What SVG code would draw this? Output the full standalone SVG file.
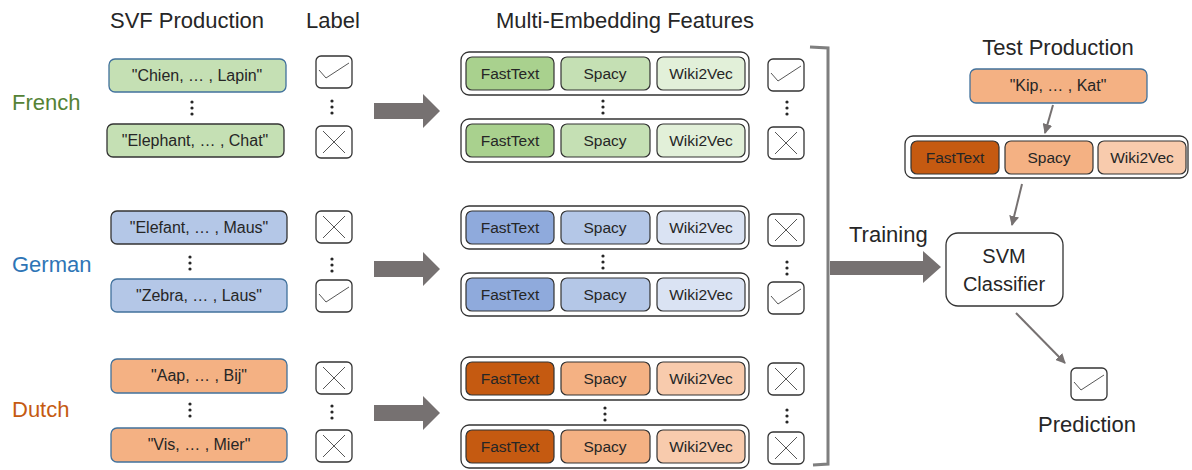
<svg xmlns="http://www.w3.org/2000/svg" xmlns:xlink="http://www.w3.org/1999/xlink" width="1192" height="470" viewBox="0 0 1192 470">
<style>
text{font-family:"Liberation Sans",Arial,sans-serif;fill:#262626}
.title{font-size:22px}
.lang{font-size:22px}
.s15{font-size:15.5px}
.s16{font-size:16px}
.svf{stroke:#333;stroke-width:1.3}
.svfb{stroke:#41719c;stroke-width:1.3}
.outer{fill:#fff;stroke:#333;stroke-width:1.3}
.in{stroke:#333;stroke-width:1.2}
.lab{fill:#fff;stroke:#333;stroke-width:1.3}
.mark{fill:none;stroke:#444;stroke-width:0.9}
.g1{fill:#a9d18e}.g2{fill:#c5e0b4}.g3{fill:#e2f0d9}
.b1{fill:#8faadc}.b2{fill:#b4c7e7}.b3{fill:#dae3f3}
.o1{fill:#c55a11}.o2{fill:#f4b183}.o3{fill:#f8cbad}
.big{fill:#767171}
.thin{fill:none;stroke:#767171;stroke-width:2}
.dot{fill:#262626}
</style>
<defs>
<marker id="ah" viewBox="0 0 10 10" refX="9" refY="5" markerWidth="5" markerHeight="5" orient="auto" markerUnits="strokeWidth">
<path d="M0,0 L10,5 L0,10 z" fill="#767171"/>
</marker>
<g id="chk"><rect class="lab" x="0" y="0" width="36" height="32" rx="5"/><path class="mark" d="M3,14 L10,22 L33,7"/></g>
<g id="crs"><rect class="lab" x="0" y="0" width="36" height="32" rx="5"/><path class="mark" d="M7,5 L29,27 M29,5 L7,27"/></g>
<g id="dots"><circle class="dot" cx="0" cy="0" r="1.6"/><circle class="dot" cx="0" cy="6" r="1.6"/><circle class="dot" cx="0" cy="12" r="1.6"/></g>
</defs>

<g id="titles">
<text class="title" x="187" y="28" text-anchor="middle">SVF Production</text>
<text class="title" x="333" y="28" text-anchor="middle">Label</text>
<text class="title" x="625" y="28" text-anchor="middle">Multi-Embedding Features</text>
<text class="title" x="1058" y="55" text-anchor="middle">Test Production</text>
</g>

<g id="lang-labels">
<text class="lang" x="12" y="110" style="fill:#548235">French</text>
<text class="lang" x="12" y="272" style="fill:#2e75b6">German</text>
<text class="lang" x="12" y="417" style="fill:#c55a11">Dutch</text>
</g>

<!-- SVF productions -->
<g id="svf-french">
<rect class="svfb g2" x="109" y="59" width="177" height="33" rx="6"/>
<text class="s16" x="197" y="81" text-anchor="middle">"Chien, … , Lapin"</text>
<use xlink:href="#dots" x="192" y="102"/>
<rect class="svf g2" x="107" y="124" width="177" height="33" rx="6"/>
<text class="s16" x="195" y="146" text-anchor="middle">"Elephant, … , Chat"</text>
</g>
<g id="svf-german">
<rect class="svf b2" x="111" y="211" width="176" height="33" rx="6"/>
<text class="s16" x="199" y="233" text-anchor="middle">"Elefant, … , Maus"</text>
<use xlink:href="#dots" x="190" y="257"/>
<rect class="svfb b2" x="111" y="279" width="176" height="33" rx="6"/>
<text class="s16" x="199" y="301" text-anchor="middle">"Zebra, … , Laus"</text>
</g>
<g id="svf-dutch">
<rect class="svfb o2" x="111" y="359" width="176" height="34" rx="6"/>
<text class="s16" x="199" y="381" text-anchor="middle">"Aap, … , Bij"</text>
<use xlink:href="#dots" x="190" y="404"/>
<rect class="svfb o2" x="111" y="428" width="176" height="34" rx="6"/>
<text class="s16" x="199" y="450" text-anchor="middle">"Vis, … , Mier"</text>
</g>

<!-- Left labels -->
<g id="labels-left">
<use xlink:href="#chk" x="316" y="56"/>
<use xlink:href="#dots" x="332" y="101"/>
<use xlink:href="#crs" x="316" y="126"/>
<use xlink:href="#crs" x="316" y="211"/>
<use xlink:href="#dots" x="332" y="259"/>
<use xlink:href="#chk" x="316" y="280"/>
<use xlink:href="#crs" x="316" y="362"/>
<use xlink:href="#dots" x="332" y="406"/>
<use xlink:href="#crs" x="316" y="430"/>
</g>

<!-- Embedding rows -->
<g id="emb-french">
<rect class="outer" x="461" y="52" width="288" height="43" rx="8"/>
<rect class="in g1" x="466" y="57" width="88" height="33" rx="6"/>
<rect class="in g2" x="561" y="57" width="89" height="33" rx="6"/>
<rect class="in g3" x="657" y="57" width="88" height="33" rx="6"/>
<text class="s15" x="510" y="79" text-anchor="middle">FastText</text>
<text class="s15" x="605" y="79" text-anchor="middle">Spacy</text>
<text class="s15" x="701" y="79" text-anchor="middle">Wiki2Vec</text>
<use xlink:href="#dots" x="603" y="101"/>
<rect class="outer" x="461" y="119" width="288" height="43" rx="8"/>
<rect class="in g1" x="466" y="124" width="88" height="33" rx="6"/>
<rect class="in g2" x="561" y="124" width="89" height="33" rx="6"/>
<rect class="in g3" x="657" y="124" width="88" height="33" rx="6"/>
<text class="s15" x="510" y="146" text-anchor="middle">FastText</text>
<text class="s15" x="605" y="146" text-anchor="middle">Spacy</text>
<text class="s15" x="701" y="146" text-anchor="middle">Wiki2Vec</text>
</g>
<g id="emb-german">
<rect class="outer" x="461" y="206" width="288" height="43" rx="8"/>
<rect class="in b1" x="466" y="211" width="88" height="33" rx="6"/>
<rect class="in b2" x="561" y="211" width="89" height="33" rx="6"/>
<rect class="in b3" x="657" y="211" width="88" height="33" rx="6"/>
<text class="s15" x="510" y="233" text-anchor="middle">FastText</text>
<text class="s15" x="605" y="233" text-anchor="middle">Spacy</text>
<text class="s15" x="701" y="233" text-anchor="middle">Wiki2Vec</text>
<use xlink:href="#dots" x="603" y="256"/>
<rect class="outer" x="461" y="273" width="288" height="43" rx="8"/>
<rect class="in b1" x="466" y="278" width="88" height="33" rx="6"/>
<rect class="in b2" x="561" y="278" width="89" height="33" rx="6"/>
<rect class="in b3" x="657" y="278" width="88" height="33" rx="6"/>
<text class="s15" x="510" y="300" text-anchor="middle">FastText</text>
<text class="s15" x="605" y="300" text-anchor="middle">Spacy</text>
<text class="s15" x="701" y="300" text-anchor="middle">Wiki2Vec</text>
</g>
<g id="emb-dutch">
<rect class="outer" x="461" y="357" width="288" height="43" rx="8"/>
<rect class="in o1" x="466" y="362" width="88" height="33" rx="6"/>
<rect class="in o2" x="561" y="362" width="89" height="33" rx="6"/>
<rect class="in o3" x="657" y="362" width="88" height="33" rx="6"/>
<text class="s15" x="510" y="384" text-anchor="middle">FastText</text>
<text class="s15" x="605" y="384" text-anchor="middle">Spacy</text>
<text class="s15" x="701" y="384" text-anchor="middle">Wiki2Vec</text>
<use xlink:href="#dots" x="605" y="408"/>
<rect class="outer" x="461" y="425" width="288" height="43" rx="8"/>
<rect class="in o1" x="466" y="430" width="88" height="33" rx="6"/>
<rect class="in o2" x="561" y="430" width="89" height="33" rx="6"/>
<rect class="in o3" x="657" y="430" width="88" height="33" rx="6"/>
<text class="s15" x="510" y="452" text-anchor="middle">FastText</text>
<text class="s15" x="605" y="452" text-anchor="middle">Spacy</text>
<text class="s15" x="701" y="452" text-anchor="middle">Wiki2Vec</text>
</g>

<!-- Right labels -->
<g id="labels-right">
<use xlink:href="#chk" x="768" y="59"/>
<use xlink:href="#dots" x="787" y="102"/>
<use xlink:href="#crs" x="768" y="127"/>
<use xlink:href="#crs" x="768" y="214"/>
<use xlink:href="#dots" x="787" y="262"/>
<use xlink:href="#chk" x="768" y="282"/>
<use xlink:href="#crs" x="768" y="363"/>
<use xlink:href="#dots" x="787" y="410"/>
<use xlink:href="#crs" x="768" y="432"/>
</g>

<!-- Test production -->
<g id="test-production">
<rect class="svfb o2" x="970" y="69" width="177" height="34" rx="6"/>
<text class="s16" x="1058" y="91" text-anchor="middle">"Kip, … , Kat"</text>
</g>
<g id="test-embedding">
<rect class="outer" x="905" y="136" width="283" height="42" rx="8"/>
<rect class="in o1" x="911" y="141" width="88" height="33" rx="6"/>
<rect class="in o2" x="1005" y="141" width="88" height="33" rx="6"/>
<rect class="in o3" x="1098" y="141" width="88" height="33" rx="6"/>
<text class="s15" x="955" y="163" text-anchor="middle">FastText</text>
<text class="s15" x="1049" y="163" text-anchor="middle">Spacy</text>
<text class="s15" x="1142" y="163" text-anchor="middle">Wiki2Vec</text>
</g>

<g id="svm">
<rect x="946" y="233" width="117" height="73" rx="12" fill="#fff" stroke="#333" stroke-width="1.3"/>
<text x="1004" y="263" text-anchor="middle" style="font-size:20px">SVM</text>
<text x="1004" y="291" text-anchor="middle" style="font-size:20px">Classifier</text>
</g>

<g id="prediction">
<use xlink:href="#chk" x="1071" y="368"/>
<text class="title" x="1087" y="432" text-anchor="middle">Prediction</text>
</g>

<g id="connectors">
<path class="big" d="M374,103 H423 V94 L440,111 L423,128 V119 H374 Z"/>
<path class="big" d="M374,261 H423 V252 L440,269 L423,286 V277 H374 Z"/>
<path class="big" d="M374,405 H423 V396 L440,413 L423,430 V421 H374 Z"/>
<path d="M810,47 L828,48 V464 L813,465" fill="none" stroke="#7f7f7f" stroke-width="3"/>
<path class="big" d="M830,261 H923 V251 L941,267 L923,283 V275 H830 Z"/>
<text class="title" x="849" y="242">Training</text>
<path class="thin" d="M1053,105 L1045,133" marker-end="url(#ah)"/>
<path class="thin" d="M1022,184 L1012,225" marker-end="url(#ah)"/>
<path class="thin" d="M1016,313 L1065,363" marker-end="url(#ah)"/>
</g>
</svg>
